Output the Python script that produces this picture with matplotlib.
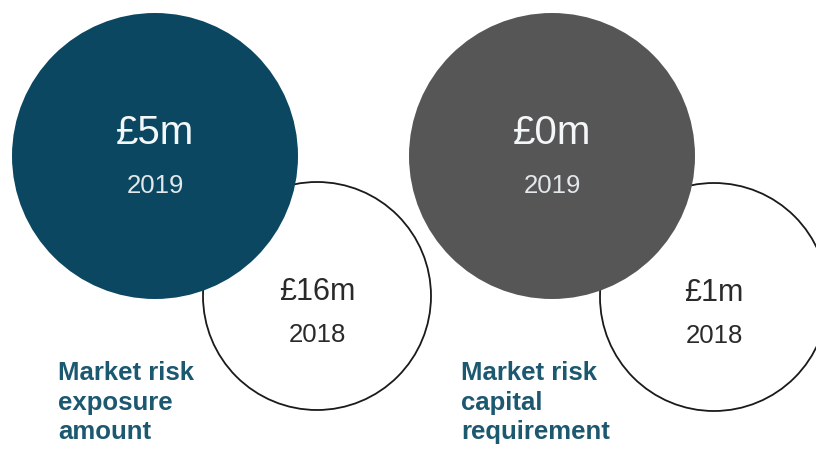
import matplotlib
matplotlib.use("Agg")
import matplotlib.pyplot as plt
from matplotlib.patches import Circle

plt.rcParams['font.family'] = ['Liberation Sans', 'DejaVu Sans']

# Data
metrics = ["Market risk\nexposure\namount", "Market risk\ncapital\nrequirement"]
values_2019 = ["£5m", "£0m"]
values_2018 = ["£16m", "£1m"]
years = ["2019", "2018"]
fill_colors = ["#0b4761", "#565657"]

W, H = 816, 451
fig = plt.figure(figsize=(W / 100, H / 100), dpi=100)
ax = fig.add_axes([0, 0, 1, 1])
ax.set_xlim(0, W)
ax.set_ylim(H, 0)
ax.set_aspect('equal')
ax.axis('off')

big_centers = [(155, 156), (552, 156)]
big_r = 143
small_centers = [(317, 296), (714, 297)]
small_r = 114
label_pos = [(58, 361), (461, 361)]

for i in range(2):
    sx, sy = small_centers[i]
    ax.add_patch(Circle((sx, sy), small_r, facecolor='white', edgecolor='#1a1a1a',
                        lw=1.3, zorder=1))
    bx, by = big_centers[i]
    ax.add_patch(Circle((bx, by), big_r, facecolor=fill_colors[i], edgecolor='none',
                        zorder=2))
    ax.text(bx, by - 23, values_2019[i], color='#f4f7f8', fontsize=29,
            ha='center', va='center', zorder=3)
    ax.text(bx, by + 30, years[0], color='#e3e8ea', fontsize=18.5,
            ha='center', va='center', zorder=3)
    ax.text(sx, sy - 4, values_2018[i], color='#2a2a2a', fontsize=22,
            ha='center', va='center', zorder=3)
    ax.text(sx, sy + 39, years[1], color='#2a2a2a', fontsize=18.5,
            ha='center', va='center', zorder=3)
    lx, ly = label_pos[i]
    ax.text(lx, ly, metrics[i], color='#1c5870', fontsize=18.5, fontweight='bold',
            ha='left', va='top', linespacing=1.3, zorder=3)

fig.savefig("out.png", dpi=100)
